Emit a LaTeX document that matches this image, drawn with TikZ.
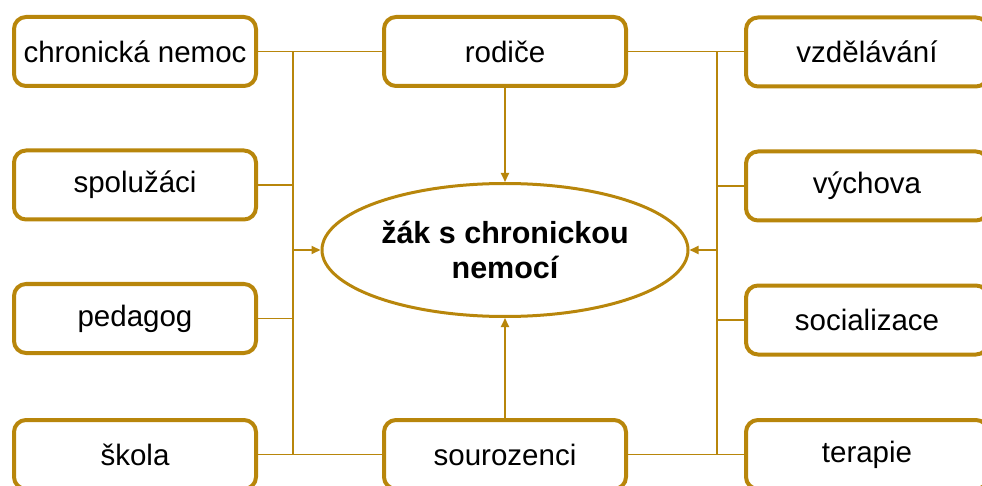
\documentclass[tikz,border=0pt]{standalone}
\usepackage{fontspec}
\setmainfont{Liberation Sans}
\usetikzlibrary{shapes.geometric,arrows.meta}
\definecolor{gold}{RGB}{184,134,11}
\begin{document}
\begin{tikzpicture}[x=1pt,y=-1pt,
  topic/.style={draw=gold,line width=4pt,rounded corners=12pt,fill=white,
    minimum width=242pt,minimum height=69pt,inner sep=0pt,
    font=\fontsize{29.5}{35}\selectfont,text=black},
  core/.style={ellipse,draw=gold,line width=3pt,fill=white,
    minimum width=366pt,minimum height=133pt,inner sep=0pt,align=center,
    font=\fontsize{30.5}{35}\selectfont\bfseries,text=black},
  link/.style={draw=gold,line width=1.9pt},
  arr/.style={link,-{Triangle[length=9pt,width=8pt]}}]
\useasboundingbox (0,0) rectangle (982,486);

% left column
\node[topic] (chron) at (135,51.5) {chronická nemoc};
\node[topic] (spol)  at (135,185)  {spolužáci};
\node[topic] (ped)   at (135,318.5){pedagog};
\node[topic] (skola) at (135,454.5){škola};
% middle column
\node[topic] (rod)   at (505,51.5) {rodiče};
\node[topic] (sour)  at (505,454.5){sourozenci};
\node[core]  (stud)  at (505,250)  {žák s chronickou\\nemocí};
% right column
\node[topic] (vzd)   at (867,52)   {vzdělávání};
\node[topic] (vych)  at (867,186)  {výchova};
\node[topic] (soc)   at (867,320)  {socializace};
\node[topic] (ter)   at (867,454.5){terapie};

% collector buses
\coordinate (lT) at (293,51.5);
\coordinate (lB) at (293,454.5);
\coordinate (lA) at (293,250);
\coordinate (rT) at (717,51.5);
\coordinate (rB) at (717,454.5);
\coordinate (rA) at (717,250);

\draw[link] (chron.east) -- (rod.west);
\draw[link] (skola.east) -- (sour.west);
\draw[link] (lT) -- (lB);
\draw[link] (spol.east) -- (spol.east -| lT);
\draw[link] (ped.east) -- (ped.east -| lT);

\draw[link] (rod.east) -- (rod.east -| vzd.west);
\draw[link] (sour.east) -- (sour.east -| ter.west);
\draw[link] (rT) -- (rB);
\draw[link] (vych.west) -- (vych.west -| rT);
\draw[link] (soc.west) -- (soc.west -| rT);

% arrows into the centre
\draw[arr] (lA) -- (stud);
\draw[arr] (rA) -- (stud);
\draw[arr] (rod) -- (stud);
\draw[arr] (sour) -- (stud);
\end{tikzpicture}
\end{document}
